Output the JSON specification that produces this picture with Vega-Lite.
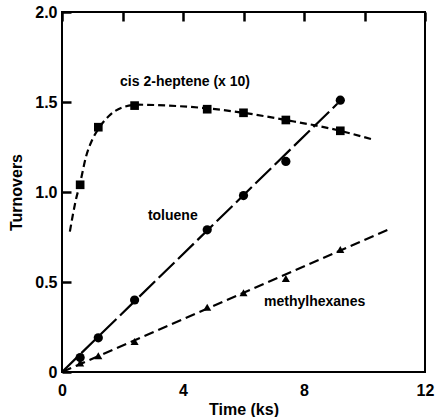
{
  "$schema": "https://vega.github.io/schema/vega-lite/v6.json",
  "width": 363,
  "height": 360,
  "autosize": {"type": "none"},
  "padding": {"left": 62, "top": 12, "right": 10, "bottom": 45},
  "background": "white",
  "config": {
    "view": {"stroke": "black", "strokeWidth": 2},
    "axis": {
      "grid": true,
      "gridColor": "black",
      "gridOpacity": 1,
      "gridWidth": 2.5,
      "gridDash": [9, 1000],
      "gridCap": "butt",
      "domain": false,
      "ticks": false,
      "labelFont": "Liberation Sans",
      "labelFontWeight": "bold",
      "labelFontSize": 16,
      "labelColor": "black",
      "titleFont": "Liberation Sans",
      "titleFontWeight": "bold",
      "titleFontSize": 16,
      "titleColor": "black"
    }
  },
  "datasets": {
    "points": [
      {"series": "toluene", "t": 0.6, "v": 0.08},
      {"series": "toluene", "t": 1.2, "v": 0.19},
      {"series": "toluene", "t": 2.4, "v": 0.40},
      {"series": "toluene", "t": 4.8, "v": 0.79},
      {"series": "toluene", "t": 6.0, "v": 0.98},
      {"series": "toluene", "t": 7.4, "v": 1.17},
      {"series": "toluene", "t": 9.2, "v": 1.51},
      {"series": "heptene", "t": 0.6, "v": 1.04},
      {"series": "heptene", "t": 1.2, "v": 1.36},
      {"series": "heptene", "t": 2.4, "v": 1.48},
      {"series": "heptene", "t": 4.8, "v": 1.46},
      {"series": "heptene", "t": 6.0, "v": 1.44},
      {"series": "heptene", "t": 7.4, "v": 1.40},
      {"series": "heptene", "t": 9.2, "v": 1.34},
      {"series": "methylhexanes", "t": 0.6, "v": 0.05},
      {"series": "methylhexanes", "t": 1.2, "v": 0.09},
      {"series": "methylhexanes", "t": 2.4, "v": 0.17},
      {"series": "methylhexanes", "t": 4.8, "v": 0.36},
      {"series": "methylhexanes", "t": 6.0, "v": 0.44},
      {"series": "methylhexanes", "t": 7.4, "v": 0.52},
      {"series": "methylhexanes", "t": 9.2, "v": 0.68}
    ],
    "fits": [
      {"series": "toluene", "t": 0, "v": 0},
      {"series": "toluene", "t": 9.1, "v": 1.49},
      {"series": "methylhexanes", "t": 0, "v": 0},
      {"series": "methylhexanes", "t": 10.9, "v": 0.80},
      {"series": "heptene", "t": 0.26, "v": 0.78},
      {"series": "heptene", "t": 0.45, "v": 0.95},
      {"series": "heptene", "t": 0.6, "v": 1.05},
      {"series": "heptene", "t": 0.8, "v": 1.2},
      {"series": "heptene", "t": 1.0, "v": 1.29},
      {"series": "heptene", "t": 1.2, "v": 1.35},
      {"series": "heptene", "t": 1.6, "v": 1.43},
      {"series": "heptene", "t": 2.0, "v": 1.47},
      {"series": "heptene", "t": 2.5, "v": 1.485},
      {"series": "heptene", "t": 3.5, "v": 1.48},
      {"series": "heptene", "t": 4.8, "v": 1.465},
      {"series": "heptene", "t": 6.0, "v": 1.44},
      {"series": "heptene", "t": 7.4, "v": 1.40},
      {"series": "heptene", "t": 9.2, "v": 1.34},
      {"series": "heptene", "t": 10.3, "v": 1.29}
    ],
    "labels": [
      {"label": "cis 2-heptene (x 10)", "t": 1.92, "v": 1.61},
      {"label": "toluene", "t": 2.84, "v": 0.867},
      {"label": "methylhexanes", "t": 6.68, "v": 0.387}
    ]
  },
  "layer": [
    {
      "encoding": {
        "x": {"field": "t", "type": "quantitative",
              "scale": {"domain": [0, 12], "nice": false, "zero": false},
              "axis": {"orient": "bottom", "title": "Time (ks)", "values": [0, 2, 4, 6, 8, 10, 12],
                       "format": "d", "labelExpr": "datum.value % 4 == 0 ? datum.label : ''",
                       "labelPadding": 10, "titlePadding": 3, "labelFlush": false}},
        "y": {"field": "v", "type": "quantitative",
              "scale": {"domain": [0, 2], "nice": false},
              "axis": {"orient": "left", "title": "Turnovers", "values": [0, 0.5, 1, 1.5, 2],
                       "format": ".1f", "labelExpr": "datum.value == 0 ? '0' : datum.label",
                       "labelPadding": 5, "titlePadding": 10, "labelFlush": false}}
      },
      "layer": [
        {
          "data": {"name": "fits"},
          "mark": {"type": "line", "color": "black", "strokeWidth": 2.2, "interpolate": "monotone"},
          "encoding": {
            "strokeDash": {"field": "series", "type": "nominal",
                           "scale": {"domain": ["toluene", "heptene", "methylhexanes"],
                                     "range": [[22, 5], [7, 4], [10, 5]]},
                           "legend": null}
          }
        },
        {
          "data": {"name": "labels"},
          "mark": {"type": "text", "align": "left", "baseline": "middle", "font": "Liberation Sans",
                   "fontWeight": "bold", "fontSize": 14, "color": "black"},
          "encoding": {
            "text": {"field": "label"}
          }
        }
      ]
    },
    {
      "data": {"name": "points"},
      "mark": {"type": "point", "filled": true, "color": "black", "opacity": 1},
      "encoding": {
        "x": {"field": "t", "type": "quantitative",
              "axis": {"orient": "top", "title": null, "labels": false, "values": [0, 2, 4, 6, 8, 10, 12]}},
        "y": {"field": "v", "type": "quantitative",
              "axis": {"orient": "right", "title": null, "labels": false, "values": [0, 0.5, 1, 1.5, 2]}},
        "shape": {"field": "series", "type": "nominal",
                  "scale": {"domain": ["toluene", "heptene", "methylhexanes"],
                            "range": ["circle", "square", "triangle-up"]},
                  "legend": null},
        "size": {"field": "series", "type": "nominal",
                 "scale": {"domain": ["toluene", "heptene", "methylhexanes"], "range": [85, 65, 65]},
                 "legend": null}
      }
    }
  ],
  "resolve": {"axis": {"x": "independent", "y": "independent"}}
}
